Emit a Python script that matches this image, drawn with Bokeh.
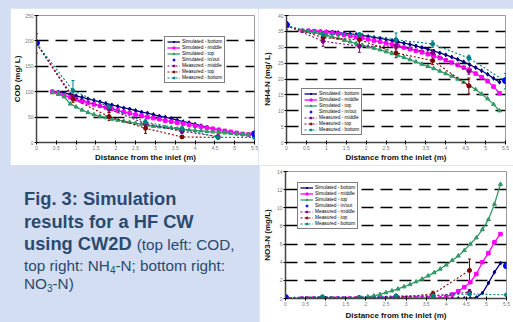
from bokeh.plotting import figure
from bokeh.layouts import row, column
from bokeh.models import (Range1d, FixedTicker, Legend, LegendItem, Whisker, TeeHead,
                          ColumnDataSource, Div, Spacer)
from bokeh.embed import file_html
from bokeh.resources import INLINE

FONT = "Liberation Sans"
BG = "#D3DEF3"

# ---------------- data ----------------
x_ticks = [0, 0.5, 1, 1.5, 2, 2.5, 3, 3.5, 4, 4.5, 5, 5.5]
x_tick_labels = ["0", "0.5", "1", "1.5", "2", "2.5", "3", "3.5", "4", "4.5", "5", "5.5"]

sim_x = [0.40, 0.55, 0.70, 0.85, 1.00, 1.15, 1.30, 1.45, 1.60, 1.75, 1.90, 2.05,
         2.20, 2.35, 2.50, 2.65, 2.80, 2.95, 3.10, 3.25, 3.40, 3.55, 3.70, 3.85,
         4.00, 4.15, 4.30, 4.45, 4.60, 4.75, 4.90, 5.05, 5.20, 5.35]
meas_x = [0, 0.92, 1.83, 2.75, 3.67, 4.58]
meas_x_bottom = [0, 0.92, 1.83, 2.75, 3.67, 4.58, 5.5]
inout_x = [0, 5.5]

# COD (mg/L)
cod_sim_bottom = [100, 99, 97, 95, 92, 89, 86, 83, 80, 77, 74, 71, 68, 66, 63, 60, 58,
                  55, 52, 50, 47, 44, 41, 39, 36, 33, 30, 27, 25, 22, 20, 18, 16, 15]
cod_sim_middle = [100, 97, 93, 89, 85, 81, 78, 75, 72, 69, 66, 63, 60, 58, 55, 53, 50,
                  48, 46, 43, 41, 39, 37, 35, 33, 31, 29, 27, 25, 23, 21, 19, 17, 16]
cod_sim_top = [98, 95, 90, 76, 70, 64, 59, 55, 52, 49, 46, 44, 42, 40, 38, 36, 34,
               32, 31, 30, 29, 27, 26, 25, 24, 23, 22, 21, 20, 19, 18, 17, 16, 15]
cod_inout = [196, 17]
cod_meas_middle = [195, 90, 66, 37, 22, 12]
cod_meas_middle_err = [0, 5, 6, 5, 4, 2]
cod_meas_top = [195, 86, 51, 28, 11, 10]
cod_meas_top_err = [19, 7, 8, 10, 2, 1]
cod_meas_bottom = [195, 102, 70, 40, 27, 10, 10]
cod_meas_bottom_err = [0, 20, 5, 6, 4, 2, 2]

# NH4-N (mg/L)
nh4_sim_bottom = [35.2, 35.2, 35.1, 35.0, 34.9, 34.8, 34.6, 34.4, 34.2, 34.0, 33.7, 33.4,
                  33.1, 32.8, 32.5, 32.1, 31.7, 31.3, 30.9, 30.4, 29.9, 29.4, 28.8, 28.2,
                  27.6, 26.9, 26.2, 25.4, 24.5, 23.6, 22.6, 21.5, 20.2, 19.0]
nh4_sim_middle = [35.2, 35.2, 35.1, 34.9, 34.7, 34.5, 34.2, 33.9, 33.6, 33.3, 32.9, 32.5,
                  32.1, 31.7, 31.3, 30.9, 30.4, 29.9, 29.4, 28.9, 28.4, 27.8, 27.2, 26.6,
                  25.9, 25.2, 24.4, 23.6, 22.7, 21.7, 20.6, 19.3, 17.6, 15.5]
nh4_sim_top = [35.2, 35.0, 34.7, 34.3, 33.8, 33.3, 32.8, 32.2, 31.7, 31.2, 30.7, 30.2,
               29.7, 29.2, 28.6, 28.0, 27.4, 26.8, 26.1, 25.4, 24.7, 24.0, 23.3, 22.5,
               21.7, 20.9, 20.0, 19.0, 17.9, 16.7, 15.3, 13.8, 12.0, 10.0]
nh4_inout = [37.0, 19.5]
nh4_meas_middle = [36.8, 31.9, 30.3, 30.4, 28.2, 22.5]
nh4_meas_middle_err = [0, 1.6, 1.9, 1.0, 1.0, 1.0]
nh4_meas_top = [36.8, 33.0, 32.4, 28.2, 25.8, 17.8]
nh4_meas_top_err = [1.3, 1.0, 1.6, 1.5, 1.3, 2.5]
nh4_meas_bottom = [36.8, 34.0, 34.0, 32.4, 31.0, 26.6, 19.3]
nh4_meas_bottom_err = [0, 0.5, 0.5, 2.1, 1.0, 0.9, 2.4]

# NO3-N (mg/L)
no3_sim_bottom = [0, 0, 0, 0, 0, 0, 0, 0, 0, 0, 0, 0, 0, 0, 0, 0, 0, 0, 0, 0, 0, 0, 0, 0,
                  0, 0, 0, 0, 0.02, 0.1, 0.6, 1.7, 2.9, 3.9]
no3_sim_middle = [0, 0, 0, 0, 0, 0, 0, 0, 0, 0, 0, 0, 0, 0, 0, 0, 0, 0, 0, 0, 0, 0, 0, 0,
                  0.2, 0.45, 0.8, 1.25, 1.8, 2.7, 4.0, 5.0, 6.2, 7.1]
no3_sim_top = [0, 0, 0, 0, 0, 0, 0, 0, 0, 0, 0.05, 0.2, 0.3, 0.45, 0.65, 0.85, 1.05, 1.3,
               1.55, 1.85, 2.15, 2.5, 2.85, 3.25, 3.7, 4.2, 4.7, 5.3, 6.0, 6.7, 7.6, 8.7,
               10.4, 12.6]
no3_inout = [0.1, 3.6]
no3_meas_middle = [0.1, 0.1, 0.1, 0.2, 0.3, 0.7]
no3_meas_middle_err = [0, 0, 0, 0, 0, 0.3]
no3_meas_top = [0.1, 0.05, 0.05, 0.1, 0.5, 3.1]
no3_meas_top_err = [0, 0, 0, 0, 0.3, 1.25]
no3_meas_bottom = [0.1, 0.2, 0.1, 0.3, 0.3, 0.5, 0.4]
no3_meas_bottom_err = [0, 0, 0, 0, 0, 0, 0]

cod_y_ticks = [0, 50, 100, 150, 200, 250]
nh4_y_ticks = [0, 5, 10, 15, 20, 25, 30, 35, 40]
no3_y_ticks = [0, 2, 4, 6, 8, 10, 12, 14]

legend_labels = ["Simulated - bottom", "Simulated - middle", "Simulated - top",
                 "Simulated - in/out", "Measured - middle", "Measured - top",
                 "Measured - bottom"]

C_BOT, C_MID, C_TOP, C_IO = "#000080", "#FF00FF", "#339966", "#0000FF"
C_MMID, C_MTOP, C_MBOT = "#800080", "#800000", "#008080"


def make_chart(width, height, borders, y_ticks, y_title, sims, inout, meas,
               legend_loc, y_title_standoff, x_title_standoff):
    left, right, top, bottom = borders
    p = figure(width=width, height=height, output_backend="svg", toolbar_location=None,
               x_range=Range1d(0, 5.5), y_range=Range1d(y_ticks[0], y_ticks[-1]),
               min_border_left=left, min_border_right=right,
               min_border_top=top, min_border_bottom=bottom)
    p.background_fill_color = "white"
    p.border_fill_color = "white"
    p.outline_line_color = "#9A9A9A"
    p.outline_line_width = 1
    p.xgrid.visible = False
    p.ygrid.ticker = FixedTicker(ticks=y_ticks[1:-1])
    p.ygrid.grid_line_color = "black"
    p.ygrid.grid_line_width = 1.6
    p.ygrid.grid_line_dash = "12 7"

    for ax in (p.xaxis[0], p.yaxis[0]):
        ax.axis_line_color = "#444444"
        ax.axis_line_width = 1.5
        ax.major_tick_line_color = "black"
        ax.major_tick_in = 2
        ax.major_tick_out = 2
        ax.minor_tick_line_color = None
        ax.major_label_text_font = FONT
        ax.major_label_text_font_size = "5px"
        ax.major_label_text_color = "#777777"
        ax.major_label_standoff = 1
        ax.axis_label_text_font = FONT
        ax.axis_label_text_font_size = "8px"
        ax.axis_label_text_font_style = "bold"
        ax.axis_label_text_color = "#111111"
    p.xaxis.ticker = FixedTicker(ticks=x_ticks)
    p.xaxis.major_label_overrides = {t: l for t, l in zip(x_ticks, x_tick_labels)}
    p.xaxis.axis_label = "Distance from the inlet (m)"
    p.xaxis.axis_label_standoff = x_title_standoff
    p.yaxis.ticker = FixedTicker(ticks=y_ticks)
    p.yaxis.axis_label = y_title
    p.yaxis.axis_label_standoff = y_title_standoff

    sim_styles = [(C_BOT, "diamond", 4), (C_MID, "square", 3.5), (C_TOP, "triangle", 4)]
    sim_renderers = []
    for ys, (c, mk, sz) in zip(sims, sim_styles):
        l = p.line(sim_x, ys, line_color=c, line_width=1.3)
        s = p.scatter(sim_x, ys, marker=mk, size=sz, fill_color=c, line_color=c)
        sim_renderers.append([l, s])

    meas_renderers = []
    for (xs, ys, errs), c in zip(meas, [C_MMID, C_MTOP, C_MBOT]):
        l = p.line(xs, ys, line_color=c, line_width=1.1, line_dash="2 2")
        s = p.scatter(xs, ys, marker="circle", size=4, fill_color=c, line_color=c)
        wx = [x for x, e in zip(xs, errs) if e > 0]
        wy = [y for y, e in zip(ys, errs) if e > 0]
        we = [e for e in errs if e > 0]
        if wx:
            src = ColumnDataSource(dict(x=wx, lower=[y - e for y, e in zip(wy, we)],
                                        upper=[y + e for y, e in zip(wy, we)]))
            w = Whisker(source=src, base="x", lower="lower", upper="upper",
                        line_color=c, line_width=1,
                        upper_head=TeeHead(size=3, line_color=c),
                        lower_head=TeeHead(size=3, line_color=c))
            p.add_layout(w)
        meas_renderers.append([l, s])

    io = p.scatter(inout_x, inout, marker="circle", size=6, fill_color=C_IO, line_color=C_IO)

    rend_lists = sim_renderers + [[io]] + meas_renderers
    items = [LegendItem(label=lab, renderers=r) for lab, r in zip(legend_labels, rend_lists)]
    legend = Legend(items=items, location=legend_loc,
                    label_text_font=FONT, label_text_font_size="4.8px",
                    label_text_color="black", label_height=5, glyph_height=5,
                    glyph_width=13, label_standoff=2, spacing=1, padding=2, margin=0,
                    border_line_color="black", border_line_width=1,
                    background_fill_color="white", background_fill_alpha=1)
    p.add_layout(legend)
    return p


p1 = make_chart(248, 157, (25, 4, 7, 23), cod_y_ticks, "COD (mg/ L)",
                [cod_sim_bottom, cod_sim_middle, cod_sim_top], cod_inout,
                [(meas_x, cod_meas_middle, cod_meas_middle_err),
                 (meas_x, cod_meas_top, cod_meas_top_err),
                 (meas_x_bottom, cod_meas_bottom, cod_meas_bottom_err)],
                (128, 59), 0, 0)

p2 = make_chart(255, 157, (28, 8, 6, 23), nh4_y_ticks, "NH4-N (mg/ L)",
                [nh4_sim_bottom, nh4_sim_middle, nh4_sim_top], nh4_inout,
                [(meas_x, nh4_meas_middle, nh4_meas_middle_err),
                 (meas_x, nh4_meas_top, nh4_meas_top_err),
                 (meas_x_bottom, nh4_meas_bottom, nh4_meas_bottom_err)],
                (15, 7), 3, 0)

p3 = make_chart(254, 157, (24, 7, 6, 23), no3_y_ticks, "NO3-N (mg/L)",
                [no3_sim_bottom, no3_sim_middle, no3_sim_top], no3_inout,
                [(meas_x, no3_meas_middle, no3_meas_middle_err),
                 (meas_x, no3_meas_top, no3_meas_top_err),
                 (meas_x_bottom, no3_meas_bottom, no3_meas_bottom_err)],
                (12, 69), 2, 2)

TXT = "#2A4A6E"
caption = Div(width=259, height=157, margin=(0, 0, 0, 0), text=(
    f'<div style="font-family:{FONT},Arial,sans-serif;color:{TXT};padding:23px 0 0 24px;">'
    '<div style="font-size:18.3px;font-weight:bold;line-height:22.5px;white-space:nowrap;">'
    'Fig. 3: Simulation<br>results for a HF CW<br>using CW2D '
    '<span style="font-size:15.3px;font-weight:normal;">(top left: COD,</span></div>'
    '<div style="font-size:15.3px;line-height:18.5px;white-space:nowrap;">'
    'top right: NH<sub style="font-size:10px;line-height:0;vertical-align:-3px;">4</sub>-N; bottom right:<br>'
    'NO<sub style="font-size:10px;line-height:0;vertical-align:-3px;">3</sub>-N)</div>'
    '</div>'))

top_row = row(Spacer(width=10, height=157), p1, p2)
bottom_row = row(caption, p3)
layout = column(Spacer(width=513, height=8), top_row, bottom_row,
                styles={"background-color": BG})

open("out.html", "w").write(file_html(layout, INLINE))
